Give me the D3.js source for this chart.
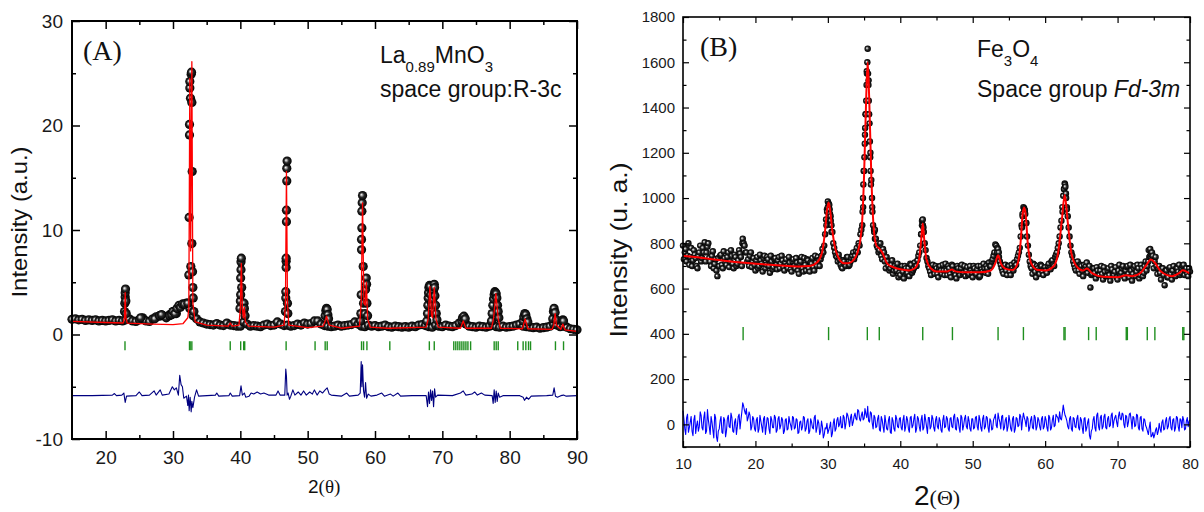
<!DOCTYPE html>
<html>
<head>
<meta charset="utf-8">
<script src="https://cdn.jsdelivr.net/npm/d3@7"></script>
<style>
  body { margin: 0; background: #fff; }
  svg { display: block; }
</style>
</head>
<body>
<svg id="chart" width="1204" height="512"></svg>
<script>
// ---------- Panel A : La0.89MnO3 (R-3c) ----------
// observed background band, one value every 0.5 deg from 15 deg
const obsA_start = 15, obsA_step = 0.5;
const obsA_base = [
  1.45, 1.5, 1.4, 1.45, 1.35, 1.4, 1.35, 1.4, 1.3, 1.35, 1.3, 1.35, 1.4, 1.3, 1.35, 1.3, 1.4, 1.5, 1.3, 1.25,
  1.4, 1.6, 1.3, 1.25, 1.5, 1.7, 1.75, 1.8, 1.6, 1.9, 2.2, 2.0, 2.7, 2.9, 3.0, 2.5, 1.8, 1.5, 1.2, 1.1,
  1.0, 0.95, 0.9, 1.05, 0.9, 0.85, 1.1, 0.9, 0.85, 0.8, 0.8, 1.2, 1.0, 0.8, 0.85, 0.8, 0.75, 0.9, 1.0, 0.85,
  0.9, 1.2, 1.0, 0.85, 0.9, 0.8, 0.85, 1.0, 0.9, 1.1, 1.0, 1.05, 1.3, 1.3, 1.0, 0.85, 0.8, 0.75, 0.8, 0.9,
  0.8, 0.85, 0.9, 0.95, 1.2, 1.0, 0.8, 0.75, 0.9, 0.8, 0.85, 0.75, 0.8, 0.9, 0.75, 0.7, 0.8, 0.75, 0.7, 0.75,
  0.7, 0.8, 0.75, 0.9, 0.95, 0.85, 0.75, 0.7, 0.9, 0.8, 0.75, 0.9, 0.8, 0.75, 0.85, 1.1, 1.2, 1.0, 0.8, 0.75,
  0.7, 0.8, 0.75, 0.7, 0.8, 0.9, 0.75, 0.7, 0.8, 0.7, 0.75, 0.8, 0.9, 1.0, 0.8, 0.75, 0.7, 0.65, 0.7, 0.6,
  0.65, 0.7, 0.8, 1.0, 0.9, 0.75, 0.8, 0.7, 0.55, 0.5, 0.45
];
// observed points on the peaks [2theta, I]
const obsA_peaks = [
  [22.8, 2.2], [22.85, 3.0], [22.9, 3.6], [22.9, 4.0], [22.95, 4.35], [23.0, 3.2], [23.05, 2.0],
  [25.2, 1.6], [27.3, 1.5], [28.0, 1.8], [28.3, 1.9], [29.5, 1.8], [29.8, 1.9], [30.0, 2.2], [30.3, 2.0],
  [30.6, 2.5], [30.9, 2.8], [31.1, 2.6], [31.4, 2.9], [31.7, 2.9],
  [32.2, 3.0], [32.35, 5.7], [32.4, 11.2], [32.45, 19.1], [32.45, 20.1], [32.5, 23.6], [32.5, 24.2],
  [32.6, 22.6], [32.65, 6.5], [32.7, 24.9], [32.75, 25.1], [32.8, 22.2], [32.85, 15.6], [32.8, 8.7],
  [32.9, 6.0], [32.95, 4.5], [33.0, 3.5], [33.1, 2.2],
  [39.95, 2.5], [40.0, 3.2], [40.05, 3.8], [40.05, 5.4], [40.1, 6.2], [40.1, 6.95], [40.15, 7.3],
  [40.2, 4.5], [40.5, 2.3], [40.55, 3.0], [40.6, 2.5], [40.7, 1.8],
  [46.7, 2.2], [46.75, 3.5], [46.75, 4.1], [46.8, 6.4], [46.8, 7.0], [46.8, 7.3], [46.85, 10.8],
  [46.85, 11.9], [46.9, 14.7], [46.9, 15.9], [46.95, 16.6], [47.0, 3.0], [47.05, 2.0],
  [52.6, 1.8], [52.7, 2.3], [52.8, 2.5], [52.9, 2.4], [53.0, 1.9], [53.1, 1.5],
  [57.85, 1.3], [57.9, 2.0], [57.95, 3.8], [58.0, 8.1], [58.0, 9.1], [58.05, 10.2], [58.05, 11.8],
  [58.1, 12.6], [58.15, 13.3], [58.25, 6.5], [58.3, 3.0], [58.5, 2.0], [58.6, 4.3], [58.7, 5.4],
  [58.75, 4.8], [58.8, 3.0], [58.9, 1.8],
  [67.7, 1.3], [67.8, 2.0], [67.85, 2.8], [67.9, 3.5], [67.95, 4.0], [68.0, 4.5], [68.1, 4.7], [68.2, 4.6],
  [68.3, 3.8], [68.4, 3.0], [68.5, 2.8], [68.6, 3.4], [68.7, 4.2], [68.8, 4.8], [68.85, 4.5], [68.9, 3.7],
  [69.0, 2.8], [69.1, 2.0], [69.2, 1.4],
  [72.9, 1.3], [73.0, 1.6], [73.2, 1.75], [73.4, 1.5],
  [77.3, 1.3], [77.4, 2.0], [77.5, 2.8], [77.6, 3.4], [77.7, 3.8], [77.8, 4.1], [77.9, 4.0], [78.0, 3.9],
  [78.1, 3.5], [78.2, 2.8], [78.3, 2.2], [78.4, 1.6],
  [82.0, 1.3], [82.1, 1.7], [82.25, 2.0], [82.4, 1.9], [82.55, 1.5], [82.7, 1.2],
  [86.4, 1.5], [86.5, 2.2], [86.6, 2.5], [86.75, 2.1], [86.9, 1.4], [87.9, 1.4], [88.0, 1.3]
];
// calculated profile
const calcA = [
  [15, 1.25], [20, 1.15], [22.6, 1.1], [22.8, 1.6], [22.9, 4.0], [23.0, 1.6], [23.2, 1.08], [27, 1.0],
  [30, 0.95], [31.5, 1.05], [32.2, 1.6], [32.35, 2.5], [32.5, 24.5], [32.62, 8], [32.8, 26.1], [32.95, 3],
  [33.3, 1.2], [35, 0.9], [38.2, 0.8], [38.5, 1.1], [38.8, 0.8], [39.8, 0.9], [40.0, 2.5], [40.15, 6.8],
  [40.3, 2.5], [40.45, 1.6], [40.6, 2.6], [40.75, 1.2], [41.2, 0.8], [45, 0.7], [46.5, 0.9], [46.7, 3],
  [46.85, 15.6], [47.0, 3], [47.2, 0.9], [50, 0.65], [52.3, 0.8], [52.6, 1.3], [52.8, 1.75], [52.95, 1.4],
  [53.2, 0.9], [55, 0.6], [57.7, 0.8], [57.95, 3], [58.15, 12.6], [58.35, 3], [58.55, 2.8], [58.72, 5.0],
  [58.9, 1.5], [59.3, 0.7], [62, 0.6], [67.6, 0.7], [67.9, 1.5], [68.15, 4.6], [68.4, 1.8], [68.55, 1.6],
  [68.8, 4.5], [69.05, 1.5], [69.4, 0.7], [72.7, 0.6], [73.1, 1.3], [73.5, 0.6], [77.3, 0.6], [77.6, 1.5],
  [77.95, 3.9], [78.3, 1.5], [78.6, 0.6], [81.9, 0.55], [82.3, 1.5], [82.7, 0.55], [86.3, 0.5], [86.55, 0.9],
  [86.75, 2.0], [86.95, 0.9], [87.6, 0.5], [87.9, 1.0], [88.2, 0.45], [90, 0.3]
];
// difference curve (obs - calc, shifted)
const diffA = [
  [15, -5.85], [18, -5.85], [21, -5.8], [21.3, -5.65], [21.6, -5.85], [22.4, -5.8], [22.7, -5.6], [22.9, -6.5],
  [23.1, -5.9], [24.5, -5.85], [25, -5.5], [25.4, -5.85], [26.5, -5.8], [27.2, -5.4], [27.5, -5.8], [28.1, -5.3],
  [28.4, -5.8], [29.4, -5.7], [29.9, -5.0], [30.2, -5.3], [30.5, -5.1], [30.8, -5.8], [31.0, -3.9], [31.2, -4.8],
  [31.4, -5.0], [31.6, -6.1], [32.0, -5.9], [32.2, -6.8], [32.3, -5.8], [32.4, -7.3], [32.55, -6.0], [32.7, -7.4],
  [32.8, -6.4], [32.95, -7.0], [33.2, -6.0], [33.5, -5.3], [33.8, -5.9], [36.3, -5.8], [36.5, -5.6], [36.8, -5.9],
  [38.3, -5.85], [38.5, -5.6], [38.8, -5.9], [39.9, -5.85], [40.1, -4.9], [40.3, -5.8], [40.6, -5.6], [40.8, -6.0],
  [41.3, -5.9], [41.6, -5.6], [42.0, -5.7], [42.5, -5.5], [43.0, -5.7], [43.5, -5.6], [44.2, -5.8], [45.3, -5.8],
  [45.6, -5.4], [45.9, -5.8], [46.6, -5.8], [46.75, -3.3], [46.85, -4.0], [46.95, -5.8], [47.1, -5.6], [47.3, -6.2],
  [47.5, -5.9], [47.8, -5.3], [48.1, -5.8], [48.6, -5.5], [49.0, -5.8], [49.4, -5.4], [49.8, -5.8], [50.3, -5.5],
  [50.7, -5.7], [51.0, -5.3], [51.4, -5.8], [51.8, -5.4], [52.2, -5.6], [52.6, -5.3], [52.9, -5.1], [53.2, -5.7],
  [53.5, -5.8], [55.0, -5.9], [55.8, -5.6], [56.2, -5.9], [57.5, -5.8], [57.8, -5.6], [57.95, -2.6], [58.05, -5.0],
  [58.15, -2.9], [58.3, -5.4], [58.45, -6.0], [58.6, -4.6], [58.75, -6.1], [59.0, -5.7], [59.4, -5.9], [60.3, -5.8],
  [61.0, -5.6], [61.4, -5.9], [62.3, -5.7], [62.7, -5.9], [63.4, -5.6], [63.8, -5.9], [65.5, -5.85], [67.6, -5.85],
  [67.8, -6.9], [67.95, -5.5], [68.1, -6.6], [68.25, -5.3], [68.4, -6.3], [68.55, -5.4], [68.7, -6.9], [68.85, -5.2],
  [69.0, -6.0], [69.3, -5.8], [71.5, -5.85], [72.7, -5.6], [73.1, -5.4], [73.5, -5.8], [74.4, -5.7], [74.8, -5.5],
  [75.2, -5.8], [75.8, -5.6], [76.3, -5.8], [77.4, -5.85], [77.55, -6.6], [77.7, -5.3], [77.85, -6.5], [78.0, -5.4],
  [78.15, -6.4], [78.3, -5.6], [78.5, -6.0], [79.0, -5.85], [81.5, -5.85], [82.0, -6.0], [82.2, -6.3], [82.5, -6.0],
  [82.8, -6.2], [83.2, -5.9], [85.5, -5.85], [86.4, -5.8], [86.6, -5.1], [86.8, -5.9], [87.1, -6.0], [87.6, -5.85],
  [88, -5.8], [88.4, -5.9], [90, -5.85]
];
// Bragg reflection positions
const braggA = [22.87, 32.45, 32.55, 32.8, 38.5, 40.05, 40.5, 40.65, 46.8, 51.1, 52.6, 52.9, 58.0, 58.3, 58.8,
  62.2, 68.07, 68.8, 71.7, 72.0, 72.3, 72.6, 72.9, 73.2, 73.5, 73.8, 74.2, 77.7, 78.0, 78.3, 81.2, 82.0, 82.4,
  82.8, 83.1, 86.8, 88.0, 89.95];
const ticksA = { xMajor: [20, 30, 40, 50, 60, 70, 80, 90], xMinor: [25, 35, 45, 55, 65, 75, 85],
                 yMajor: [-10, 0, 10, 20, 30], yMinor: [-5, 5, 15, 25] };

// ---------- Panel B : Fe3O4 (Fd-3m) ----------
// observed, every 0.25 deg from 10 deg
const obsB_start = 10, obsB_step = 0.25;
const obsB = [
  790, 760, 720, 800, 740, 700, 770, 735, 690, 760, 720, 780, 805, 760, 800, 720, 745, 690, 730, 655,
  700, 750, 690, 735, 705, 760, 720, 745, 690, 740, 710, 770, 740, 820, 790, 760, 730, 745, 695, 735,
  680, 740, 700, 725, 675, 745, 705, 730, 670, 720, 695, 735, 685, 740, 710, 725, 680, 730, 690, 715,
  675, 730, 690, 715, 665, 720, 690, 735, 680, 725, 675, 710, 695, 745, 700, 725, 730, 775, 790, 905,
  985, 950, 880, 800, 760, 740, 750, 705, 690, 720, 700, 740, 705, 735, 760, 745, 780, 800, 840, 880,
  1120, 1370, 1660, 1330, 1080, 880, 860, 790, 760, 800, 730, 760, 690, 720, 680, 705, 665, 700, 680, 650,
  660, 700, 645, 690, 670, 655, 705, 680, 715, 700, 745, 790, 900, 850, 770, 720, 690, 660, 705, 665,
  690, 650, 700, 665, 680, 710, 660, 690, 650, 700, 675, 645, 690, 660, 705, 670, 655, 695, 665, 680,
  650, 690, 665, 700, 655, 685, 710, 670, 690, 715, 700, 730, 760, 790, 775, 720, 690, 665, 705, 660,
  700, 660, 690, 715, 705, 745, 780, 880, 960, 930, 830, 750, 700, 665, 705, 650, 690, 665, 700, 660,
  695, 670, 710, 685, 725, 700, 750, 780, 830, 900, 1010, 1060, 960, 870, 790, 745, 705, 680, 720, 665,
  700, 655, 690, 715, 690, 605, 665, 690, 645, 680, 660, 700, 640, 675, 655, 690, 635, 685, 660, 695,
  640, 705, 670, 700, 645, 695, 665, 705, 635, 690, 655, 705, 645, 705, 655, 700, 680, 720, 775, 760,
  690, 740, 665, 700, 640, 690, 615, 680, 650, 695, 640, 700, 655, 690, 705, 670, 700, 660, 690, 655,
  675
];
// observed, in-between points every 0.25 deg from 10.125 deg
const obsB_mid_start = 10.125;
const obsB_mid = [
  730, 775, 745, 705, 780, 725, 750, 700, 745, 790, 735, 760, 720, 785, 735, 700, 765, 710, 680, 735,
  745, 705, 765, 715, 740, 695, 770, 710, 750, 700, 725, 755, 700, 800, 760, 720, 700, 760, 720, 705,
  725, 690, 750, 710, 735, 690, 740, 700, 745, 685, 730, 705, 725, 690, 745, 695, 715, 700, 740, 685,
  720, 700, 735, 680, 710, 740, 675, 705, 730, 690, 715, 735, 680, 715, 740, 700, 745, 760, 840, 950,
  975, 920, 850, 780, 745, 720, 730, 695, 725, 705, 740, 700, 720, 745, 730, 765, 760, 790, 860, 960,
  1280, 1560, 1520, 1200, 960, 860, 820, 780, 770, 745, 775, 720, 740, 700, 690, 725, 680, 690, 710, 670,
  695, 675, 700, 665, 690, 710, 670, 690, 700, 725, 760, 840, 880, 800, 735, 700, 675, 700, 680, 700,
  665, 690, 680, 705, 660, 680, 700, 665, 705, 680, 660, 700, 670, 690, 665, 700, 680, 660, 700, 670,
  700, 670, 685, 650, 700, 675, 690, 700, 665, 700, 720, 745, 795, 760, 740, 705, 675, 700, 680, 700,
  675, 705, 680, 700, 730, 760, 830, 930, 950, 890, 790, 720, 690, 710, 675, 700, 680, 705, 675, 690,
  680, 700, 690, 720, 705, 740, 760, 800, 870, 960, 1040, 1020, 920, 830, 760, 720, 690, 715, 680, 705,
  680, 705, 700, 670, 700, 660, 690, 670, 695, 660, 680, 665, 695, 655, 680, 660, 700, 660, 675, 650,
  680, 660, 690, 655, 680, 700, 650, 680, 665, 700, 675, 690, 660, 690, 670, 720, 700, 740, 740, 745,
  720, 700, 690, 670, 690, 660, 680, 650, 690, 665, 680, 660, 690, 675, 660, 690, 705, 680, 665, 690
];
const obsB_peaks = [
  [18.2, 800], [18.4, 790],
  [29.8, 880], [29.9, 940], [30.0, 960], [30.2, 970], [30.3, 930], [30.4, 900], [30.5, 850],
  [34.8, 940], [34.85, 1000], [34.9, 1060], [34.95, 1120], [35.05, 1180], [35.1, 1240], [35.15, 1310],
  [35.2, 1370], [35.3, 1430], [35.35, 1500], [35.4, 1550], [35.45, 1600], [35.55, 1550], [35.6, 1500],
  [35.65, 1430], [35.7, 1370], [35.8, 1250], [35.85, 1180], [35.9, 1120], [35.95, 1060], [36.1, 1000],
  [36.15, 940], [36.4, 850], [36.5, 820],
  [42.9, 840], [43.0, 880], [43.1, 905], [43.2, 870],
  [53.4, 780], [53.6, 760],
  [56.8, 870], [56.9, 920], [57.1, 955], [57.2, 945], [57.4, 890],
  [62.4, 940], [62.6, 1040], [62.7, 1065], [62.8, 1050], [62.9, 1000], [63.0, 950],
  [74.3, 770], [74.5, 745], [74.7, 750]
];
const calcB = [
  [10, 745], [12, 738], [14, 730], [16, 722], [18, 715], [20, 710], [22, 705], [24, 701], [26, 698], [27.5, 700],
  [28.5, 715], [29.2, 760], [29.6, 850], [29.9, 950], [30.1, 980], [30.3, 950], [30.6, 860], [31, 780], [31.5, 735],
  [32.2, 712], [32.8, 712], [33.5, 725], [34.2, 770], [34.7, 880], [35.0, 1100], [35.3, 1450], [35.5, 1600],
  [35.7, 1450], [36.0, 1100], [36.3, 880], [36.7, 790], [37.1, 777], [37.5, 760], [38.2, 710], [39, 695], [40, 685],
  [41.2, 680], [42, 690], [42.6, 730], [42.9, 820], [43.1, 888], [43.3, 820], [43.6, 730], [44.2, 690], [45, 676],
  [46.5, 676], [47.1, 684], [47.6, 676], [49, 672], [51, 672], [52.5, 680], [53.1, 710], [53.5, 747], [53.9, 710],
  [54.5, 688], [55.5, 682], [56.2, 710], [56.6, 800], [56.9, 930], [57.1, 958], [57.3, 930], [57.6, 800], [58.1, 710],
  [59, 682], [60, 680], [61.2, 700], [61.8, 760], [62.3, 900], [62.7, 1013], [63.1, 900], [63.6, 760], [64.3, 700],
  [65.2, 680], [65.8, 689], [66.4, 670], [68, 652], [70, 650], [71.2, 659], [72, 655], [73.2, 670], [74, 705],
  [74.6, 728], [75.2, 712], [76, 675], [77.5, 655], [78.5, 668], [79, 681], [79.5, 675], [80, 667]
];
// difference, every 0.25 deg from 10 deg
const diffB = [
  60, -20, 30, -35, 10, -30, 20, -40, 15, -10, 40, -25, 55, -30, 20, -45, 10, -60, 30, -75,
  -20, 35, -40, 20, -30, 40, -15, 30, -35, 25, -10, 45, 20, 95, 60, 70, 30, 40, -10, 25,
  -30, 30, -20, 15, -35, 35, -10, 25, -40, 20, -15, 30, -25, 35, -5, 20, -30, 25, -20, 10,
  -25, 30, -15, 20, -35, 15, -10, 30, -20, 25, -30, 10, -20, 40, -15, 5, -30, -10, -45, -20,
  -40, -10, -55, 5, -30, 20, -10, 35, -15, 30, 5, 40, -10, 45, 10, 50, 20, 60, 15, 55,
  25, 45, 80, 10, 50, -20, 30, -10, 40, -30, 20, -35, 10, -25, 35, -40, 15, -30, 25, -15,
  30, -25, 40, -10, 20, -35, 35, -5, 45, -20, 25, -30, 40, -15, 20, -40, 30, -10, 25, -30,
  35, -20, 15, -35, 40, -10, 25, -30, 30, -15, 45, -25, 20, -35, 30, -5, 40, -20, 15, -30,
  25, -15, 35, -25, 20, -30, 40, -10, 30, -35, 15, -20, 30, -5, 50, 10, 35, -25, 20, -30,
  40, -20, 25, -35, 30, -10, 45, -25, 50, 15, 35, -30, 20, -15, 40, -25, 30, -10, 25, -20,
  35, -15, 40, -25, 20, -10, 45, 30, 55, 20, 85, 40, 15, -20, 35, -30, 25, -15, 40, -25,
  20, -40, 30, -15, 25, -65, -20, 35, -30, 50, -25, 40, -10, 45, -20, 35, -5, 50, 15, 40,
  -10, 55, 20, 45, -15, 35, 10, 50, -20, 30, -5, 40, -25, 35, -30, 20, -15, -45, 10, -50,
  -60, -25, -45, 5, -35, 20, -20, 30, -10, 35, -25, 25, -15, 30, -30, 20, 35, -25, 15, -10,
  20
];
// difference, in-between points from 10.125 deg
const diffB_mid = [
  25, -45, 45, -15, 35, -50, 40, -5, -30, 55, -15, 30, -40, 65, -10, 35, -25, 45, -55, -30,
  15, -35, 30, -55, 25, -10, 50, -30, 10, -45, 35, -20, 55, 80, 45, 15, 55, -25, 35, -20,
  20, -35, 40, -10, 25, -45, 30, -20, 35, -15, 40, -35, 25, -20, 30, -40, 20, -25, 35, -5,
  35, -20, 25, -40, 10, -25, 35, -30, 15, -40, 25, -15, 30, -35, 20, -45, 15, -60, -15, 5,
  -25, 10, -40, 25, -20, 30, 0, -15, 40, -20, 50, 20, 30, -5, 35, 25, 65, 25, 40, 20,
  70, 30, 15, 55, 5, 40, -15, 25, -25, 35, -10, 40, -20, 20, -35, 30, -20, 40, -10, 25,
  -15, 20, -30, 35, -20, 30, -15, 25, -35, 35, -10, 20, -25, 45, -10, 30, -20, 40, -15, 20,
  -10, 30, -25, 20, -15, 35, -20, 25, -10, 35, -20, 30, -15, 40, -25, 25, -10, 35, -20, 25,
  -20, 30, -10, 40, -15, 25, -20, 35, -15, 25, -25, 20, 45, -15, 25, -20, 40, -15, 30, -10,
  15, -30, 35, -20, 25, -5, 35, 20, 30, -10, 25, -15, 35, -20, 30, -10, 20, -25, 35, -10,
  20, -30, 30, -15, 40, -5, 35, 10, 25, 50, 60, 30, -10, 25, -20, 30, -10, 25, -15, 30,
  -15, 25, -30, 10, -50, -30, 20, -15, 40, -10, 30, -20, 35, -15, 25, -10, 40, -15, 30, 10,
  35, 25, 50, 0, 40, -10, 45, 20, 35, -10, 45, -15, 30, -20, 25, -5, -30, -15, -55, -35,
  -45, -15, -30, -20, 10, -25, 15, -20, 25, -15, 20, -30, 35, -10, 25, -15, 20, -20, 30, 15
];
const braggB = [18.3, 30.1, 35.45, 37.1, 43.1, 47.2, 53.5, 57.0, 62.6, 62.75, 66.0, 67.05, 71.2, 71.35,
  74.1, 75.15, 79.0, 79.15];
const ticksB = { xMajor: [10, 20, 30, 40, 50, 60, 70, 80], xMinor: [15, 25, 35, 45, 55, 65, 75],
                 yMajor: [0, 200, 400, 600, 800, 1000, 1200, 1400, 1600, 1800],
                 yMinor: [-100, 100, 300, 500, 700, 900, 1100, 1300, 1500, 1700] };

// ---------- drawing ----------
const SANS = "'Liberation Sans', Arial, sans-serif";
const SERIF = "'Liberation Serif', 'Times New Roman', serif";
const svg = d3.select("#chart");
svg.append("rect").attr("width", 1204).attr("height", 512).attr("fill", "#fff");

// shaded ball marker
const grad = svg.append("defs").append("radialGradient").attr("id", "ball")
  .attr("cx", "50%").attr("cy", "50%").attr("r", "50%").attr("fx", "36%").attr("fy", "40%");
grad.append("stop").attr("offset", "0%").attr("stop-color", "#ffffff");
grad.append("stop").attr("offset", "22%").attr("stop-color", "#a8a8a8");
grad.append("stop").attr("offset", "50%").attr("stop-color", "#2a2a2a");
grad.append("stop").attr("offset", "100%").attr("stop-color", "#000000");

const xA = d3.scaleLinear().domain([15, 90]).range([72, 577]);
const yA = d3.scaleLinear().domain([-10, 30]).range([439, 21]);
const xB = d3.scaleLinear().domain([10, 80]).range([683, 1190]);
const yB = d3.scaleLinear().domain([-100, 1800]).range([447, 17]);

const series = (vals, start, step) => vals.map((v, i) => [start + i * step, v]);

function drawAxes(g, x, y, t, o) {
  const [xl, xr] = x.range(), [yb, yt] = y.range();
  const style = sel => {
    sel.select(".domain").remove();
    sel.selectAll("line").attr("stroke", "#000").attr("stroke-width", o.tickW);
    sel.selectAll("text").attr("font-family", SANS).attr("font-size", o.font).attr("fill", "#1a1a1a");
  };
  const put = (axis, tx, ty) => g.append("g").attr("transform", `translate(${tx},${ty})`).call(axis).call(style);
  const lab = d => String(d);
  put(d3.axisBottom(x).tickValues(t.xMajor).tickSize(-o.maj).tickPadding(o.xPad).tickFormat(lab), 0, yb);
  put(d3.axisLeft(y).tickValues(t.yMajor).tickSize(-o.maj).tickPadding(o.yPad).tickFormat(lab), xl, 0);
  put(d3.axisBottom(x).tickValues(t.xMinor).tickSize(-o.min).tickFormat(""), 0, yb);
  put(d3.axisLeft(y).tickValues(t.yMinor).tickSize(-o.min).tickFormat(""), xl, 0);
  put(d3.axisTop(x).tickValues(t.xMajor).tickSize(-o.maj).tickFormat(""), 0, yt);
  put(d3.axisTop(x).tickValues(t.xMinor).tickSize(-o.min).tickFormat(""), 0, yt);
  put(d3.axisRight(y).tickValues(t.yMajor).tickSize(-o.maj).tickFormat(""), xr, 0);
  put(d3.axisRight(y).tickValues(t.yMinor).tickSize(-o.min).tickFormat(""), xr, 0);
  g.append("rect").attr("x", xl).attr("y", yt).attr("width", xr - xl).attr("height", yb - yt)
    .attr("fill", "none").attr("stroke", "#000").attr("stroke-width", o.frameW);
}

function drawPanel(g, x, y, d) {
  g.append("g").selectAll("circle").data(d.obs).join("circle")
    .attr("cx", p => x(p[0])).attr("cy", p => y(p[1])).attr("r", d.r).attr("fill", "url(#ball)");
  g.append("path").datum(d.calc).attr("fill", "none").attr("stroke", "#ff0000")
    .attr("stroke-width", d.calcW).attr("stroke-linejoin", "round")
    .attr("d", d3.line().x(p => x(p[0])).y(p => y(p[1])).curve(d.curve));
  g.append("path").datum(d.diff).attr("fill", "none").attr("stroke", d.diffColor)
    .attr("stroke-width", d.diffW).attr("stroke-linejoin", "round")
    .attr("d", d3.line().x(p => x(p[0])).y(p => y(p[1])));
  g.append("g").selectAll("line").data(d.bragg).join("line")
    .attr("x1", v => x(v)).attr("x2", v => x(v))
    .attr("y1", y(d.braggRange[0])).attr("y2", y(d.braggRange[1]))
    .attr("stroke", "#1f8f1f").attr("stroke-width", 1.4);
}

// panel A
const gA = svg.append("g");
drawPanel(gA, xA, yA, {
  obs: series(obsA_base, obsA_start, obsA_step).concat(obsA_peaks),
  r: 4.6, calc: calcA, calcW: 1.3, curve: d3.curveLinear,
  diff: diffA, diffColor: "#000080", diffW: 1.1,
  bragg: braggA, braggRange: [-0.65, -1.5]
});
drawAxes(gA, xA, yA, ticksA, { maj: 8, min: 4, tickW: 1.5, frameW: 2, font: 19, xPad: 12, yPad: 9 });

// panel B
const gB = svg.append("g");
const obsBAll = series(obsB, obsB_start, obsB_step)
  .concat(series(obsB_mid, obsB_mid_start, obsB_step), obsB_peaks)
  .sort((a, b) => a[0] - b[0]);
const diffBAll = series(diffB, obsB_start, obsB_step)
  .concat(series(diffB_mid, obsB_mid_start, obsB_step))
  .sort((a, b) => a[0] - b[0]);
drawPanel(gB, xB, yB, {
  obs: obsBAll, r: 3.2, calc: calcB, calcW: 2, curve: d3.curveMonotoneX,
  diff: diffBAll, diffColor: "#0000ff", diffW: 1.1,
  bragg: braggB, braggRange: [372, 430]
});
drawAxes(gB, xB, yB, ticksB, { maj: 6, min: 3.5, tickW: 1.2, frameW: 1.6, font: 15, xPad: 11, yPad: 8 });

// ---------- texts ----------
function addText(x, y, size, family, str, extra) {
  const t = svg.append("text").attr("x", x).attr("y", y).attr("font-size", size)
    .attr("font-family", family).attr("fill", "#111").text(str);
  if (extra) extra(t);
  return t;
}
// formula with subscripts: parts = [[text, isSub], ...]
function formula(x, y, size, subSize, parts) {
  const t = svg.append("text").attr("x", x).attr("y", y).attr("font-size", size)
    .attr("font-family", SANS).attr("fill", "#111");
  let shifted = false;
  parts.forEach(([s, sub]) => {
    const ts = t.append("tspan").text(s);
    if (sub && !shifted) { ts.attr("dy", 9).attr("font-size", subSize); shifted = true; }
    else if (sub) ts.attr("font-size", subSize);
    else if (shifted) { ts.attr("dy", -9); shifted = false; }
  });
}

addText(83, 60, 28, SERIF, "(A)");
addText(700, 56, 28, SERIF, "(B)");
formula(380, 63, 23, 15, [["La", false], ["0.89", true], ["MnO", false], ["3", true]]);
addText(380, 97, 23, SANS, "space group:R-3c");
formula(977, 57, 23, 15, [["Fe", false], ["3", true], ["O", false], ["4", true]]);
addText(977, 97, 23, SANS, "Space group ", t => t.append("tspan").attr("font-style", "italic").text("Fd-3m"));

// axis titles
addText(0, 0, 22, SANS, "Intensity (a.u.)", t => t.attr("text-anchor", "middle")
  .attr("transform", "translate(27,222) rotate(-90)").attr("textLength", 151).attr("lengthAdjust", "spacingAndGlyphs"));
addText(0, 0, 24, SANS, "Intensity (u. a.)", t => t.attr("text-anchor", "middle")
  .attr("transform", "translate(627,250) rotate(-90)").attr("textLength", 175).attr("lengthAdjust", "spacingAndGlyphs"));

const xtA = addText(308, 493, 19, SANS, "2");
xtA.append("tspan").attr("font-family", SERIF).text("(θ)");
const xtB = addText(914, 505, 28, SANS, "2");
xtB.append("tspan").attr("font-family", SERIF).attr("font-size", 22).text("(Θ)");
</script>
</body>
</html>
